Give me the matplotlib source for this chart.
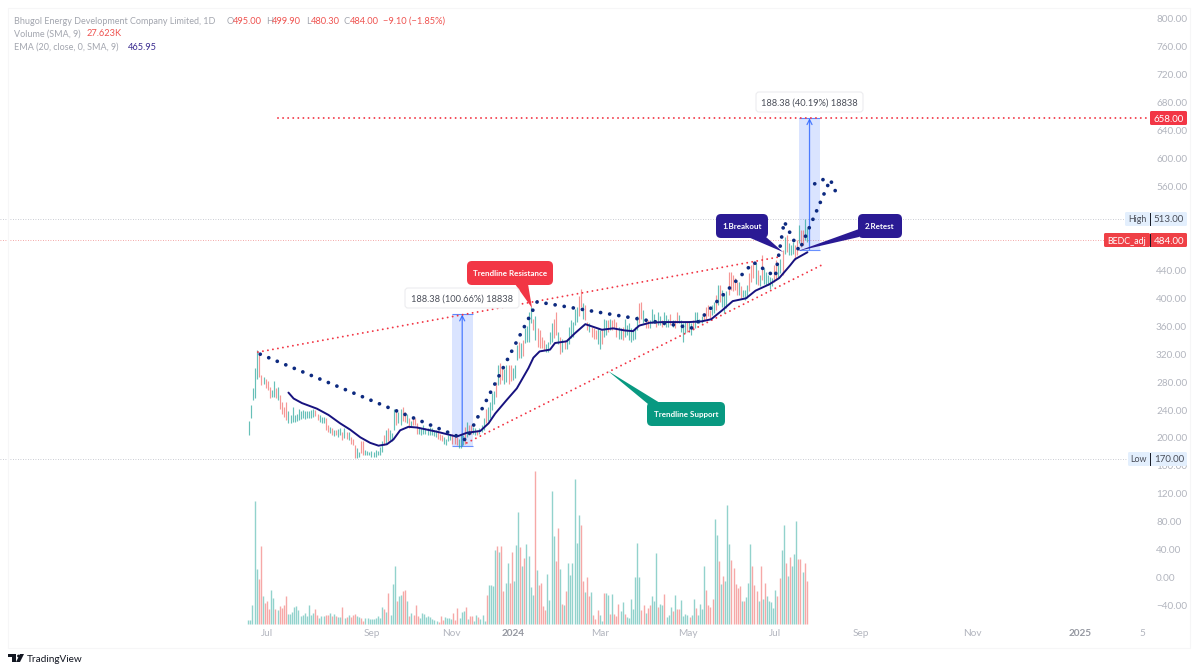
import numpy as np
import matplotlib
matplotlib.use("Agg")
import matplotlib.pyplot as plt
from matplotlib.patches import FancyBboxPatch, Polygon, Rectangle, Circle

plt.rcParams['font.family'] = ['Lato', 'DejaVu Sans']

# ---------- data (prices in rupees, volume in thousands, x in trading-bar index) ----------
high = [224,247,271,300,326,319,290,288,285,281,273,269,281,271,273,261,252,245,252,238,
        233,245,233,235,242,238,240,238,239,238,240,242,240,235,233,230,230,228,218,216,
        215,211,211,213,214,208,214,208,208,202,199,190,185,180,195,195,183,181,180,181,
        180,183,181,187,195,204,211,214,211,207,
        242,242,237,242,245,237,235,228,225,228,229,221,216,215,218,215,214,216,214,212,
        211,209,206,204,202,198,204,206,206,204,202,199,206,204,216,223,218,218,216,214,
        211,214,218,228,242,245,252,264,268,280,304,307,302,299,304,304,
        305,300,305,333,338,336,340,357,360,381,387,371,374,357,355,345,340,
        335,338,352,364,371,381,352,345,342,340,342,359,369,366,385,388,404,413,393,390,
        366,364,359,357,354,357,354,354,371,369,369,371,369,371,366,359,357,359,371,362,
        364,357,354,359,374,393,395,383,371,369,369,385,378,369,381,374,369,381,376,371,
        378,369,369,381,376,369,364,366,366,366,364,369,381,
        381,371,374,379,388,391,383,391,395,405,419,419,412,407,410,438,438,433,429,424,
        424,417,412,412,419,436,448,452,450,441,433,462,443,438,433,431,429,448,455,448,
        457,469,488,491,479,476,481,476,484,505,498,498,513,500]
low = [205,228,254,257,285,288,276,278,271,269,257,259,259,257,254,242,235,230,226,221,
       221,223,223,224,226,227,228,227,228,228,229,230,232,226,223,222,221,211,209,207,
       205,203,205,202,204,197,200,199,197,192,190,171,172,173,178,176,176,176,176,173,
       173,173,175,176,180,190,192,195,197,195,
       211,218,221,218,225,223,221,214,216,218,218,206,206,204,206,206,204,205,205,203,
       202,199,197,195,192,190,195,197,192,192,190,185,186,190,192,202,204,206,206,204,
       204,206,209,211,221,225,228,240,249,259,276,278,283,278,280,278,
       281,283,286,312,314,314,317,336,338,338,364,355,340,331,329,329,326,
       323,323,335,338,343,347,335,320,323,328,328,335,343,345,362,366,374,388,371,369,
       354,352,345,342,342,335,328,335,345,347,352,354,354,357,345,342,342,340,345,347,
       340,338,340,342,354,364,371,364,357,357,357,364,364,359,362,362,359,362,359,359,
       362,359,357,364,364,352,338,350,352,352,347,354,357,
       367,364,364,369,371,374,371,376,379,383,391,395,388,379,386,405,412,410,412,405,
       405,400,402,398,400,410,424,429,421,419,417,426,421,419,419,414,417,424,426,429,
       436,433,464,467,462,462,464,455,462,479,474,476,484,480]
volume = [2.8,2.8,12.4,78.9,35.4,28.8,49.7,17.7,13.4,14.9,9.8,22.0,16.6,9.6,8.7,11.7,10.2,11.9,18.1,6.6,
          6.6,7.5,10.7,11.5,8.7,4.9,5.5,7.0,5.1,12.4,6.0,7.0,9.8,6.0,3.8,5.1,5.1,6.0,5.8,7.0,
          5.1,6.2,5.1,4.3,4.7,10.7,4.1,4.7,5.8,4.5,5.5,6.6,5.1,4.7,4.1,2.1,3.8,3.8,3.2,3.0,
          3.0,3.6,5.1,3.6,11.1,9.4,7.5,19.6,6.0,25.6,36.9,14.5,18.1,18.8,20.9,21.8,14.5,5.3,7.0,6.0,
          11.9,5.3,3.8,7.0,6.2,4.7,5.3,4.5,3.4,2.8,1.7,1.5,5.1,2.8,4.5,3.6,3.8,3.4,7.3,2.3,
          10.2,3.6,7.9,8.1,10.7,3.2,4.9,4.9,2.1,6.0,4.5,3.0,6.0,1.7,18.8,25.0,25.2,24.1,47.1,49.7,
          45.9,50.1,20.9,26.2,38.8,26.2,45.9,27.3,50.3,71.5,49.1,37.3,42.2,51.4,43.7,
          23.5,18.8,98.1,34.3,24.7,26.4,11.3,9.2,32.2,15.6,85.1,56.1,40.1,61.4,35.2,13.0,12.4,21.3,39.0,31.1,
          38.8,93.0,51.8,70.0,63.4,27.3,20.5,29.9,18.1,20.7,6.0,3.2,9.2,6.0,1.7,20.1,19.6,18.8,6.2,19.0,
          6.4,5.3,12.8,8.5,14.1,6.6,4.7,4.1,16.0,9.8,29.9,51.8,30.1,9.2,12.2,7.0,10.2,12.2,18.1,14.9,
          45.2,10.7,13.0,12.4,19.0,4.5,6.0,10.9,8.5,18.8,9.8,9.8,15.6,4.9,6.4,6.0,4.3,6.0,16.0,10.5,
          6.0,12.6,9.4,37.3,21.8,12.2,10.7,16.2,67.0,57.2,40.1,25.8,30.5,27.7,76.1,51.4,41.2,36.0,25.8,23.0,
          24.1,14.5,14.7,17.1,26.2,51.4,37.3,25.0,21.1,14.9,36.9,16.2,26.2,18.1,14.5,14.1,10.2,21.5,18.1,29.4,
          47.6,63.4,38.8,30.5,42.9,37.3,44.6,66.1,41.8,41.8,33.3,39.0,27.6]
# colour of every bar, read one by one: u = teal, d = red
bar_dir_a = ("uuuuuddudd" "duududdddu" "uuuuuuuuuu" "uudduuuddu" "duduududud"
             "dduudduuuu" "uuuuududuu" "uduuddudud" "dduuuuuuuu" "uddduuuudd"
             "duuududduu" "duuuduuuud" "uddu" "udduuu" "duduu")
bar_dir_b = ("uududddduu" "uuddududuu" "uuuudduddu" "ddduuduudu" "ddduuduuuu"
             "uuuddudduu" "uduuduuudu" "dduuuuduud" "uuuudddduu" "duduuudddd"
             "duduuudddu" "duduuuuudd" "uududuuudd" "udd")
bar_up = [c == 'u' for c in (bar_dir_a + bar_dir_b)]

ema_bar = [19,21.5,25.5,32.7,38.3,43.9,48.7,53.6,58.4,62.4,66.4,69.6,72.8,76.8,80.9,85.7,90.5,95.3,100,105,
           111.4,115.4,118.6,124,129,134.6,137,140,145,147.4,153,157,162,165,170,175.4,181,185,188,193,
           199.4,205.8,212,218,222.6,228,233,239.4,244,250.6,255.4,260.6,263,266,269]
ema_val = [265,256.5,250,242,233,221,212,201,193,189,191,198,211,216,215,212,209,205.5,202,207.5,
           210,221,235,254,271,300,315,324,326.5,336,338.4,350,363,360,355,357,354,353,361,365,
           366,366,366,367,370,383,396,400,411,420,429,447,456,461,466]

path_bar = [5.4,100,104.5,138.8,213.5,243,253.5,257.8,265,280,283.6]
path_val = [320,203,197,395,357.5,451.6,431,510,468,570,546]
path2_bar = [272.5,276.5]
path2_val = [564,570]
resist_bar = [4.3,254.8]
resist_val = [323,459]
support_bar = [104.9,275.9]
support_val = [193,447.7]

target_price = 658.0
high_price = 513.0
last_price = 484.0
low_price = 170.0
long_bar = [[97.6,107.8],[264.9,275.1]]
long_base = [188.5,469.62]
long_move = 188.38
long_text = ["188.38 (100.66%) 18838","188.38 (40.19%) 18838"]

price_ticks = [v for v in range(-40,801,40) if v not in (480,520)]
month_bar = [8.8,59.3,97.4,127.3,169.2,211.6,253.5,294.9,348.4,400.4,430.3]
month_lab = ["Jul","Sep","Nov","2024","Mar","May","Jul","Sep","Nov","2025","5"]

# ---------- colours ----------
TEAL, RED = "#26a69a", "#ef5350"
AXC = "#b2b5be"
NAVY = "#0d2a80"
TAG = "#f23645"

W, H = 1200, 672
fig = plt.figure(figsize=(W/100, H/100), dpi=100, facecolor="white")
rect = [0, 1-626/H, 1147/W, 626/H]

# volume pane
axv = fig.add_axes(rect, zorder=1)
n_v = len(volume)
step_v = (806.7-248.3)/(n_v-1)
axv.set_xlim(-248.3/step_v, (1147-248.3)/step_v)
axv.set_ylim(-2/1.5625, 624/1.5625)
axv.axis("off")
xv = np.arange(n_v)
upv = np.array((bar_up + [True]*n_v)[:n_v])
axv.vlines(xv[upv], 0, np.array(volume)[upv], color=TEAL, alpha=0.5, lw=1.0)
axv.vlines(xv[~upv], 0, np.array(volume)[~upv], color=RED, alpha=0.5, lw=1.0)

# price pane
ax = fig.add_axes(rect, zorder=2)
ax.patch.set_alpha(0)
step = 2.076
ax.set_xlim(-249/step, (1147-249)/step)
ax.set_ylim(800-(626-19)*1.432, 800+19*1.432)
for s in ax.spines.values():
    s.set_visible(False)
ax.yaxis.tick_right()
ax.set_yticks(price_ticks)
ax.set_yticklabels([f"{v:.2f}".replace("-", "\u2212") for v in price_ticks], color=AXC, fontsize=7.2,
                   va="center_baseline")
ax.set_xticks(month_bar)
ax.set_xticklabels(month_lab, color=AXC, fontsize=7.2)
for t in ax.get_xticklabels():
    if t.get_text() in ("2024", "2025"):
        t.set_fontweight("bold")
        t.set_color("#9598a1")
ax.tick_params(axis="both", length=0)
ax.tick_params(axis="y", pad=6.5)
ax.tick_params(axis="x", pad=2)

# reference lines
ax.axhline(high_price, color="#b8bbc4", lw=0.6, ls=(0,(1,2)), zorder=1)
ax.axhline(low_price, color="#b8bbc4", lw=0.6, ls=(0,(1,2)), zorder=1)
ax.axhline(last_price, color="#f08a8a", lw=0.6, ls=(0,(1,2)), zorder=1)

# long-position boxes
for (a, b), base in zip(long_bar, long_base):
    ax.add_patch(Rectangle((a, base), b-a, long_move, fc="#2962ff", alpha=0.17, ec="none", zorder=1.5))
    ax.hlines([base, base+long_move], a, b, color="#2962ff", lw=0.8, alpha=0.7, zorder=2)
    ax.annotate("", xy=((a+b)/2, base+long_move), xytext=((a+b)/2, base),
                arrowprops=dict(arrowstyle="->", color="#2962ff", lw=0.9, alpha=0.8,
                                shrinkA=0, shrinkB=0, mutation_scale=9), zorder=2)

# price bars
nb = min(len(high), len(low))
xb = np.arange(nb)
upb = np.array((bar_up + [True]*nb)[:nb])
hi, lo = np.array(high[:nb], float), np.array(low[:nb], float)
ax.vlines(xb[upb], lo[upb], hi[upb], color=TEAL, alpha=0.7, lw=0.85, zorder=3)
ax.vlines(xb[~upb], lo[~upb], hi[~upb], color=RED, alpha=0.6, lw=0.85, zorder=3)

# trendlines
red_dot = dict(color=TAG, lw=1.4, ls=(0,(0.01,2.6)), dash_capstyle="round", zorder=4)
ax.plot(resist_bar, resist_val, **red_dot)
ax.plot(support_bar, support_val, **red_dot)
ax.plot([14, (1147-249)/step], [target_price, target_price], **red_dot)

# EMA and projected path
ax.plot(ema_bar, ema_val, color="#17127f", lw=1.4, zorder=5, solid_capstyle="round")
blue_dot = dict(color=NAVY, lw=2.7, ls=(0,(0.01,2.45)), dash_capstyle="round", zorder=6)
ax.plot(path_bar, path_val, **blue_dot)
ax.plot(path2_bar, path2_val, **blue_dot)

# overlay in pixel coordinates: tags, callouts, legend, logo
ov = fig.add_axes([0, 0, 1, 1], zorder=3)
ov.set_xlim(0, W)
ov.set_ylim(H, 0)
ov.axis("off")
ov.patch.set_alpha(0)

def box(x0, y0, x1, y1, fc, r=4, ec="none", lw=0, z=8):
    ov.add_patch(FancyBboxPatch((x0, y0), x1-x0, y1-y0, boxstyle=f"round,pad=0,rounding_size={r}",
                                fc=fc, ec=ec, lw=lw, zorder=z))

def txt(x, y, s, c, fs=6.7, ha="left", w="normal", z=9):
    ov.text(x, y, s, color=c, fontsize=fs, ha=ha, va="center_baseline", fontweight=w, zorder=z)

# faint frame
ov.add_patch(Rectangle((8, 8), 1182, 640, fc="none", ec="#f6f6f7", lw=0.8, zorder=0))

# legend
G = "#a3a6af"
R = "#ef5350"
txt(14, 20, "Bhugol Energy Development Company Limited, 1D", G, fs=6.5)
for x, s, c in [(227,"O",G),(233,"495.00",R),(266,"H",G),(272,"499.90",R),(306,"L",G),(311,"480.30",R),
                (344,"C",G),(349.5,"484.00",R),(383,"\u22129.10 (\u22121.85%)",R)]:
    txt(x, 20, s, c)
txt(14, 33, "Volume (SMA, 9)", G, fs=6.5)
txt(87, 33, "27.623K", R)
txt(14, 46, "EMA (20, close, 0, SMA, 9)", G, fs=6.5)
txt(128, 46, "465.95", "#3a2c90")

# price tags
def tag(y, val, name=None, nx=None, fc=TAG, tc="white"):
    if name:
        box(nx, y-7, 1150, y+7, fc, r=1.5)
        txt((nx+1150)/2-0.5, y, name, tc, ha="center", fs=6.4)
    box(1150, y-7, 1187, y+7, fc, r=1.5)
    if name:
        ov.plot([1150, 1150], [y-6, y+6], color="#131722", lw=0.7, zorder=9)
    txt(1169, y, val, tc, ha="center", fs=7.0)

tag(118, "658.00")
tag(219, "513.00", "High", 1125, "#e3effd", "#4a4e59")
tag(240, "484.00", "BEDC_adj", 1104, "#ef4046")
tag(459, "170.00", "Low", 1128, "#e3effd", "#4a4e59")

# measurement labels
for (x0, y0, x1, y1), s in zip([(405,288,519,308),(756,92,863,112)], long_text):
    box(x0, y0, x1, y1, "white", r=3, ec="#ececef", lw=0.8)
    txt((x0+x1)/2, (y0+y1)/2, s, "#4a4e59", ha="center", fs=6.7)

# callouts
def callout(x0, y0, x1, y1, fc, s, pts):
    ov.add_patch(Polygon(pts, closed=True, fc=fc, ec="none", zorder=7))
    box(x0, y0, x1, y1, fc, r=5)
    txt((x0+x1)/2, (y0+y1)/2, s, "white", ha="center", fs=5.8, w="bold")

callout(467, 261, 553, 285, TAG, "Trendline Resistance", [(515,284),(528,284),(532,308)])
callout(647, 402, 725, 426, "#089981", "Trendline Support", [(648,404),(660,403),(608,371)])
callout(716, 214, 768, 238, "#2a1a94", "1.Breakout", [(748,237),(766,237),(783,252)])
callout(858, 214, 902, 238, "#2a1a94", "2.Retest", [(859,229),(859,237),(798,251)])

# logo
ov.add_patch(Rectangle((8, 654), 8, 3, fc="#131722", ec="none"))
ov.add_patch(Rectangle((12, 654), 4, 8, fc="#131722", ec="none"))
ov.add_patch(Circle((18.5, 656), 1.4, fc="#131722", ec="none"))
ov.add_patch(Polygon([(20,654),(24,654),(20,662),(16,662)], fc="#131722", ec="none"))
txt(27, 658.5, "TradingView", "#131722", fs=7.2)

fig.savefig("out.png", dpi=100, facecolor="white")
